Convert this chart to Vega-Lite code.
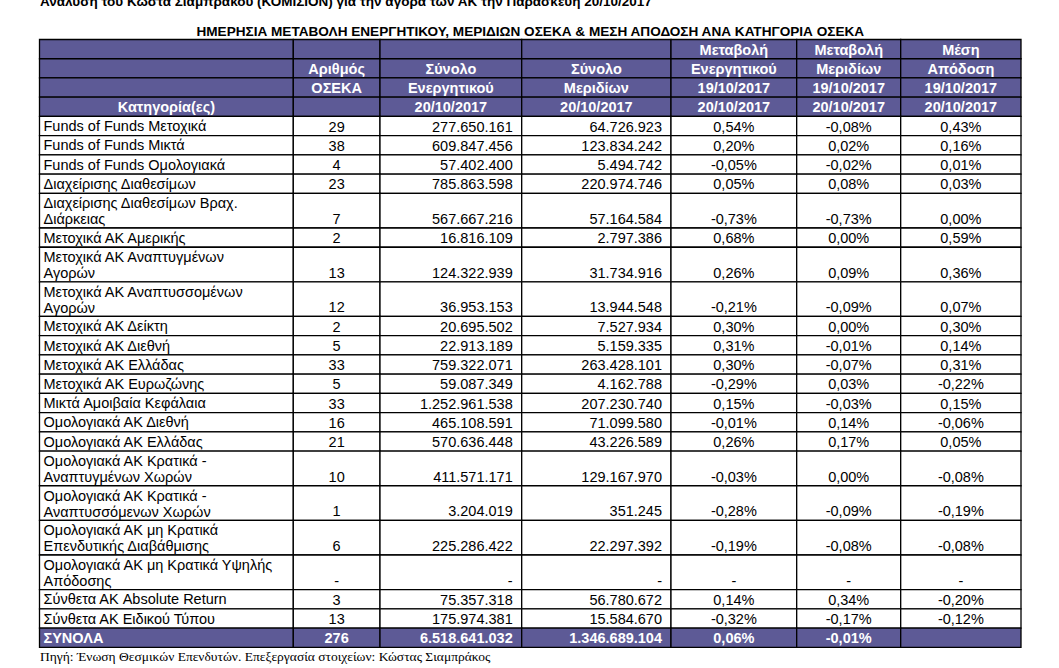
{
  "$schema": "https://vega.github.io/schema/vega-lite/v6.json",
  "width": 981.5,
  "height": 607.8,
  "autosize": "none",
  "padding": {"left": 39.5, "top": 39.5, "right": 38, "bottom": 20.7},
  "background": "white",
  "config": {
    "view": {"stroke": null},
    "font": "Liberation Sans",
    "locale": {"number": {"decimal": ",", "thousands": ".", "grouping": [3], "currency": ["", " €"], "minus": "-"}}
  },
  "title": {
    "text": "ΗΜΕΡΗΣΙΑ ΜΕΤΑΒΟΛΗ ΕΝΕΡΓΗΤΙΚΟΥ, ΜΕΡΙΔΙΩΝ ΟΣΕΚΑ & ΜΕΣΗ ΑΠΟΔΟΣΗ ΑΝΑ ΚΑΤΗΓΟΡΙΑ ΟΣΕΚΑ",
    "anchor": "middle",
    "frame": "group",
    "font": "Liberation Sans",
    "fontSize": 13.6,
    "fontWeight": "bold",
    "color": "black",
    "offset": -44.5
  },
  "datasets": {
    "notes": [
      {"place": "top", "note": "Ανάλυση του Κώστα Σιαμπράκου  (ΚΟΜΙΣΙΟΝ) για την αγορά των ΑΚ την Παρασκευή 20/10/2017"},
      {"place": "bottom", "note": "Πηγή: Ένωση Θεσμικών Επενδυτών. Επεξεργασία στοιχείων: Κώστας Σιαμπράκος"}
    ],
    "header": [
      {"cat": "", "n": "", "assets": "", "units": "", "dA": "Μεταβολή", "dU": "Μεταβολή", "ret": "Μέση"},
      {"cat": "", "n": "Αριθμός", "assets": "Σύνολο", "units": "Σύνολο", "dA": "Ενεργητικού", "dU": "Μεριδίων", "ret": "Απόδοση"},
      {"cat": "", "n": "ΟΣΕΚΑ", "assets": "Ενεργητικού", "units": "Μεριδίων", "dA": "19/10/2017", "dU": "19/10/2017", "ret": "19/10/2017"},
      {"cat": "Κατηγορία(ες)", "n": "", "assets": "20/10/2017", "units": "20/10/2017", "dA": "20/10/2017", "dU": "20/10/2017", "ret": "20/10/2017"}
    ],
    "body": [
      {"cat": "Funds of Funds Μετοχικά", "n": 29, "assets": 277650161, "units": 64726923, "dA": 0.54, "dU": -0.08, "ret": 0.43},
      {"cat": "Funds of Funds Μικτά", "n": 38, "assets": 609847456, "units": 123834242, "dA": 0.20, "dU": 0.02, "ret": 0.16},
      {"cat": "Funds of Funds Ομολογιακά", "n": 4, "assets": 57402400, "units": 5494742, "dA": -0.05, "dU": -0.02, "ret": 0.01},
      {"cat": "Διαχείρισης Διαθεσίμων", "n": 23, "assets": 785863598, "units": 220974746, "dA": 0.05, "dU": 0.08, "ret": 0.03},
      {"cat": "Διαχείρισης Διαθεσίμων Βραχ.\nΔιάρκειας", "n": 7, "assets": 567667216, "units": 57164584, "dA": -0.73, "dU": -0.73, "ret": 0.00},
      {"cat": "Μετοχικά ΑΚ Αμερικής", "n": 2, "assets": 16816109, "units": 2797386, "dA": 0.68, "dU": 0.00, "ret": 0.59},
      {"cat": "Μετοχικά ΑΚ Αναπτυγμένων\nΑγορών", "n": 13, "assets": 124322939, "units": 31734916, "dA": 0.26, "dU": 0.09, "ret": 0.36},
      {"cat": "Μετοχικά ΑΚ Αναπτυσσομένων\nΑγορών", "n": 12, "assets": 36953153, "units": 13944548, "dA": -0.21, "dU": -0.09, "ret": 0.07},
      {"cat": "Μετοχικά ΑΚ Δείκτη", "n": 2, "assets": 20695502, "units": 7527934, "dA": 0.30, "dU": 0.00, "ret": 0.30},
      {"cat": "Μετοχικά ΑΚ Διεθνή", "n": 5, "assets": 22913189, "units": 5159335, "dA": 0.31, "dU": -0.01, "ret": 0.14},
      {"cat": "Μετοχικά ΑΚ Ελλάδας", "n": 33, "assets": 759322071, "units": 263428101, "dA": 0.30, "dU": -0.07, "ret": 0.31},
      {"cat": "Μετοχικά ΑΚ Ευρωζώνης", "n": 5, "assets": 59087349, "units": 4162788, "dA": -0.29, "dU": 0.03, "ret": -0.22},
      {"cat": "Μικτά Αμοιβαία Κεφάλαια", "n": 33, "assets": 1252961538, "units": 207230740, "dA": 0.15, "dU": -0.03, "ret": 0.15},
      {"cat": "Ομολογιακά ΑΚ Διεθνή", "n": 16, "assets": 465108591, "units": 71099580, "dA": -0.01, "dU": 0.14, "ret": -0.06},
      {"cat": "Ομολογιακά ΑΚ Ελλάδας", "n": 21, "assets": 570636448, "units": 43226589, "dA": 0.26, "dU": 0.17, "ret": 0.05},
      {"cat": "Ομολογιακά ΑΚ Κρατικά -\nΑναπτυγμένων Χωρών", "n": 10, "assets": 411571171, "units": 129167970, "dA": -0.03, "dU": 0.00, "ret": -0.08},
      {"cat": "Ομολογιακά ΑΚ Κρατικά -\nΑναπτυσσόμενων Χωρών", "n": 1, "assets": 3204019, "units": 351245, "dA": -0.28, "dU": -0.09, "ret": -0.19},
      {"cat": "Ομολογιακά ΑΚ μη Κρατικά\nΕπενδυτικής Διαβάθμισης", "n": 6, "assets": 225286422, "units": 22297392, "dA": -0.19, "dU": -0.08, "ret": -0.08},
      {"cat": "Ομολογιακά ΑΚ μη Κρατικά Υψηλής\nΑπόδοσης", "n": "-", "assets": "-", "units": "-", "dA": "-", "dU": "-", "ret": "-"},
      {"cat": "Σύνθετα ΑΚ Absolute Return", "n": 3, "assets": 75357318, "units": 56780672, "dA": 0.14, "dU": 0.34, "ret": -0.20},
      {"cat": "Σύνθετα ΑΚ Ειδικού Τύπου", "n": 13, "assets": 175974381, "units": 15584670, "dA": -0.32, "dU": -0.17, "ret": -0.12},
      {"cat": "ΣΥΝΟΛΑ", "n": 276, "assets": 6518641032, "units": 1346689104, "dA": 0.06, "dU": -0.01, "ret": null}
    ]
  },
  "layer": [
    {
      "data": {"name": "header"},
      "transform": [
        {"window": [{"op": "row_number", "as": "r"}]},
        {"fold": ["cat", "n", "assets", "units", "dA", "dU", "ret"], "as": ["key", "label"]},
        {"calculate": "indexof(['cat','n','assets','units','dA','dU','ret'], datum.key)", "as": "ci"},
        {"calculate": "datum.ci + 1", "as": "ci1"},
        {"calculate": "datum.ci + 0.5", "as": "cx"},
        {"calculate": "datum.r - 1", "as": "y0"}
      ],
      "layer": [
        {
          "mark": {"type": "rect", "fill": "#5d5a96", "stroke": "black", "strokeWidth": 1.3},
          "encoding": {
            "x": {"field": "ci", "type": "quantitative",
                  "scale": {"domain": [0, 1, 2, 3, 4, 5, 6, 7], "range": [0, 253.8, 340.5, 482.2, 631.5, 757.2, 861.2, 981.5], "nice": false, "zero": false},
                  "axis": null},
            "x2": {"field": "ci1"},
            "y": {"field": "y0", "type": "quantitative", "scale": {"domain": [0, 31.6], "reverse": true, "nice": false, "zero": false}, "axis": null},
            "y2": {"field": "r"}
          }
        },
        {
          "transform": [{"filter": "datum.label !== ''"}],
          "mark": {"type": "text", "align": "center", "baseline": "bottom", "dy": -1, "fontSize": 14.5, "fontWeight": "bold", "fill": "white"},
          "encoding": {
            "x": {"field": "cx", "type": "quantitative", "axis": null},
            "y": {"field": "r", "type": "quantitative", "axis": null},
            "text": {"field": "label"}
          }
        }
      ]
    },
    {
      "data": {"name": "body"},
      "transform": [
        {"window": [{"op": "row_number", "as": "r"}]},
        {"calculate": "length(split(datum.cat, '\\n'))", "as": "lines"},
        {"calculate": "1 + 0.8 * (datum.lines - 1)", "as": "h"},
        {"window": [{"op": "sum", "field": "h", "as": "cum"}], "sort": [{"field": "r", "order": "ascending"}], "frame": [null, 0]},
        {"calculate": "4 + datum.cum", "as": "y1"},
        {"calculate": "datum.y1 - datum.h", "as": "y0"},
        {"calculate": "datum.cat === 'ΣΥΝΟΛΑ'", "as": "isTotal"},
        {"calculate": "datum.cat", "as": "t_cat"},
        {"calculate": "isNumber(datum.n) ? format(datum.n, 'd') : (datum.n || '')", "as": "t_n"},
        {"calculate": "isNumber(datum.assets) ? format(datum.assets, ',d') : (datum.assets || '')", "as": "t_assets"},
        {"calculate": "isNumber(datum.units) ? format(datum.units, ',d') : (datum.units || '')", "as": "t_units"},
        {"calculate": "isNumber(datum.dA) ? format(datum.dA, '.2f') + '%' : (datum.dA || '')", "as": "t_dA"},
        {"calculate": "isNumber(datum.dU) ? format(datum.dU, '.2f') + '%' : (datum.dU || '')", "as": "t_dU"},
        {"calculate": "isNumber(datum.ret) ? format(datum.ret, '.2f') + '%' : (datum.ret || '')", "as": "t_ret"},
        {"fold": ["t_cat", "t_n", "t_assets", "t_units", "t_dA", "t_dU", "t_ret"], "as": ["key", "txt"]},
        {"calculate": "indexof(['t_cat','t_n','t_assets','t_units','t_dA','t_dU','t_ret'], datum.key)", "as": "ci"},
        {"calculate": "datum.ci + 1", "as": "ci1"},
        {"calculate": "datum.ci + 0.5", "as": "cx"}
      ],
      "layer": [
        {
          "mark": {"type": "rect", "stroke": "black", "strokeWidth": 1.3},
          "encoding": {
            "x": {"field": "ci", "type": "quantitative",
                  "scale": {"domain": [0, 1, 2, 3, 4, 5, 6, 7], "range": [0, 253.8, 340.5, 482.2, 631.5, 757.2, 861.2, 981.5], "nice": false, "zero": false},
                  "axis": null},
            "x2": {"field": "ci1"},
            "y": {"field": "y0", "type": "quantitative", "scale": {"domain": [0, 31.6], "reverse": true, "nice": false, "zero": false}, "axis": null},
            "y2": {"field": "y1"},
            "fill": {"condition": {"test": "datum.isTotal", "value": "#5d5a96"}, "value": "white"}
          }
        },
        {
          "transform": [{"filter": "datum.key === 't_cat' && !datum.isTotal"}],
          "mark": {"type": "text", "align": "left", "baseline": "alphabetic", "dx": 4, "dy": 14.8, "fontSize": 14.5, "lineBreak": "\n", "lineHeight": 16, "fill": "black"},
          "encoding": {
            "x": {"field": "ci", "type": "quantitative", "axis": null},
            "y": {"field": "y0", "type": "quantitative", "axis": null},
            "text": {"field": "txt"}
          }
        },
        {
          "transform": [{"filter": "indexof(['t_n','t_dA','t_dU','t_ret'], datum.key) >= 0 && !datum.isTotal"}],
          "mark": {"type": "text", "align": "center", "baseline": "bottom", "dy": -1, "fontSize": 14.5, "fill": "black"},
          "encoding": {
            "x": {"field": "cx", "type": "quantitative", "axis": null},
            "y": {"field": "y1", "type": "quantitative", "axis": null},
            "text": {"field": "txt"}
          }
        },
        {
          "transform": [{"filter": "indexof(['t_assets','t_units'], datum.key) >= 0 && !datum.isTotal"}],
          "mark": {"type": "text", "align": "right", "baseline": "bottom", "dx": -9, "dy": -1, "fontSize": 14.5, "fill": "black"},
          "encoding": {
            "x": {"field": "ci1", "type": "quantitative", "axis": null},
            "y": {"field": "y1", "type": "quantitative", "axis": null},
            "text": {"field": "txt"}
          }
        },
        {
          "transform": [{"filter": "datum.key === 't_cat' && datum.isTotal"}],
          "mark": {"type": "text", "align": "left", "baseline": "bottom", "dx": 4, "dy": -1, "fontSize": 14.5, "fontWeight": "bold", "fill": "white"},
          "encoding": {
            "x": {"field": "ci", "type": "quantitative", "axis": null},
            "y": {"field": "y1", "type": "quantitative", "axis": null},
            "text": {"field": "txt"}
          }
        },
        {
          "transform": [{"filter": "indexof(['t_n','t_dA','t_dU','t_ret'], datum.key) >= 0 && datum.isTotal"}],
          "mark": {"type": "text", "align": "center", "baseline": "bottom", "dy": -1, "fontSize": 14.5, "fontWeight": "bold", "fill": "white"},
          "encoding": {
            "x": {"field": "cx", "type": "quantitative", "axis": null},
            "y": {"field": "y1", "type": "quantitative", "axis": null},
            "text": {"field": "txt"}
          }
        },
        {
          "transform": [{"filter": "indexof(['t_assets','t_units'], datum.key) >= 0 && datum.isTotal"}],
          "mark": {"type": "text", "align": "right", "baseline": "bottom", "dx": -9, "dy": -1, "fontSize": 14.5, "fontWeight": "bold", "fill": "white"},
          "encoding": {
            "x": {"field": "ci1", "type": "quantitative", "axis": null},
            "y": {"field": "y1", "type": "quantitative", "axis": null},
            "text": {"field": "txt"}
          }
        }
      ]
    },
    {
      "data": {"name": "notes"},
      "transform": [{"filter": "datum.place === 'top'"}],
      "mark": {"type": "text", "align": "left", "baseline": "alphabetic", "dx": 0.5, "dy": -34, "font": "Liberation Sans", "fontSize": 13.5, "fontWeight": "bold", "fill": "black"},
      "encoding": {
        "x": {"datum": 0, "type": "quantitative", "axis": null},
        "y": {"datum": 0, "type": "quantitative", "axis": null},
        "text": {"field": "note"}
      }
    },
    {
      "data": {"name": "notes"},
      "transform": [{"filter": "datum.place === 'bottom'"}],
      "mark": {"type": "text", "align": "left", "baseline": "top", "dx": 0.5, "dy": 2.5, "font": "Liberation Serif", "fontSize": 13.5, "fill": "black"},
      "encoding": {
        "x": {"datum": 0, "type": "quantitative", "axis": null},
        "y": {"datum": 31.6, "type": "quantitative", "axis": null},
        "text": {"field": "note"}
      }
    }
  ]
}
